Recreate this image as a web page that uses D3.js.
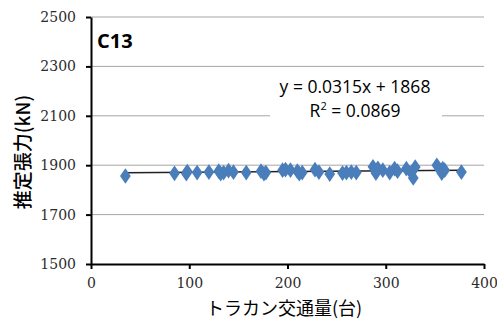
<!DOCTYPE html>
<html>
<head>
<meta charset="utf-8">
<script src="https://cdn.jsdelivr.net/npm/d3@7"></script>
<style>
  body { margin: 0; background: #fff; }
</style>
</head>
<body>
<script>
// traffic count (vehicles) vs estimated tension (kN)
const trafficCounts = [35, 85, 97, 98, 108, 120, 130, 132, 135, 140, 145, 158, 173, 176, 178,
  195, 198, 203, 210, 212, 215, 228, 232, 243, 256, 260, 265, 270, 287, 290, 292, 297,
  304, 309, 312, 321, 326, 328, 330, 352, 357, 358, 360, 377];
const tensions = [1856, 1867, 1866, 1874, 1870, 1872, 1876, 1866, 1870, 1878, 1872, 1870, 1876, 1866, 1870,
  1880, 1882, 1880, 1876, 1866, 1870, 1882, 1872, 1864, 1868, 1870, 1872, 1870, 1894, 1868, 1888, 1880,
  1870, 1886, 1876, 1886, 1870, 1848, 1893, 1900, 1868, 1886, 1880, 1872];
const xTicks = [0, 100, 200, 300, 400];
const yTicks = [1500, 1700, 1900, 2100, 2300, 2500];
const slope = 0.0315;
const intercept = 1868;

const width = 497, height = 322;
const plotLeft = 91, plotRight = 484, plotTop = 17, plotBottom = 264;

const svg = d3.select("body").append("svg")
  .attr("width", width)
  .attr("height", height);

const x = d3.scaleLinear().domain([0, 400]).range([plotLeft, plotRight]);
const y = d3.scaleLinear().domain([1500, 2500]).range([plotBottom, plotTop]);

// gridlines
svg.append("g")
  .selectAll("line")
  .data(yTicks.slice(1))
  .enter().append("line")
  .attr("x1", plotLeft).attr("x2", plotRight)
  .attr("y1", d => y(d)).attr("y2", d => y(d))
  .attr("stroke", "#a6a6a6")
  .attr("stroke-width", 1);

// regression label box (covers gridline)
svg.append("rect")
  .attr("x", 270).attr("y", 74)
  .attr("width", 172).attr("height", 50)
  .attr("fill", "#fff");

// axes
const yAxis = svg.append("g")
  .attr("transform", `translate(${plotLeft},0)`)
  .call(d3.axisLeft(y).tickValues(yTicks).tickFormat(d3.format("d"))
    .tickSize(5).tickSizeOuter(0).tickPadding(10));
const xAxis = svg.append("g")
  .attr("transform", `translate(0,${plotBottom})`)
  .call(d3.axisBottom(x).tickValues(xTicks).tickFormat(d3.format("d"))
    .tickSize(5).tickSizeOuter(0).tickPadding(9));

[yAxis, xAxis].forEach(g => {
  g.select(".domain").attr("stroke", "#000").attr("stroke-width", 2);
  g.selectAll(".tick line").attr("stroke", "#000").attr("stroke-width", 2);
  g.selectAll("text")
    .attr("fill", "#2b2b2b")
    .style("font-family", "'DejaVu Serif', serif")
    .style("font-size", "14px");
});

// trendline
const xMin = d3.min(trafficCounts), xMax = d3.max(trafficCounts);
svg.append("line")
  .attr("x1", x(xMin)).attr("x2", x(xMax))
  .attr("y1", y(slope * xMin + intercept))
  .attr("y2", y(slope * xMax + intercept))
  .attr("stroke", "#222")
  .attr("stroke-width", 1.5);

// points
const pts = trafficCounts.map((d, i) => [d, tensions[i]]);
svg.append("g")
  .selectAll("path")
  .data(pts)
  .enter().append("path")
  .attr("d", d3.symbol().type(d3.symbolDiamond).size(70))
  .attr("transform", d => `translate(${x(d[0])},${y(d[1])}) scale(1.2,1)`)
  .attr("fill", "#4a7ebb");

// labels
svg.append("text")
  .attr("x", 97).attr("y", 48)
  .style("font-family", "'Open Sans', 'Liberation Sans', sans-serif")
  .style("font-weight", "bold")
  .style("font-size", "20px")
  .text("C13");

svg.append("text")
  .attr("x", 355).attr("y", 93)
  .attr("text-anchor", "middle")
  .style("font-family", "'Open Sans', sans-serif")
  .style("font-size", "17.5px")
  .text("y = 0.0315x + 1868");

svg.append("text")
  .attr("x", 355).attr("y", 117)
  .attr("text-anchor", "middle")
  .style("font-family", "'Open Sans', sans-serif")
  .style("font-size", "17.5px")
  .html("R<tspan dy='-7' font-size='11'>2</tspan><tspan dy='7'> = 0.0869</tspan>");

svg.append("text")
  .attr("transform", "translate(30,152) rotate(-90)")
  .attr("text-anchor", "middle")
  .style("font-family", "'Noto Sans CJK JP', sans-serif")
  .style("font-weight", "500")
  .style("font-size", "19px")
  .text("推定張力(kN)");

svg.append("text")
  .attr("x", 284).attr("y", 315)
  .attr("text-anchor", "middle")
  .style("font-family", "'Noto Sans CJK JP', sans-serif")
  .style("font-size", "18px")
  .text("トラカン交通量(台)");
</script>
</body>
</html>
